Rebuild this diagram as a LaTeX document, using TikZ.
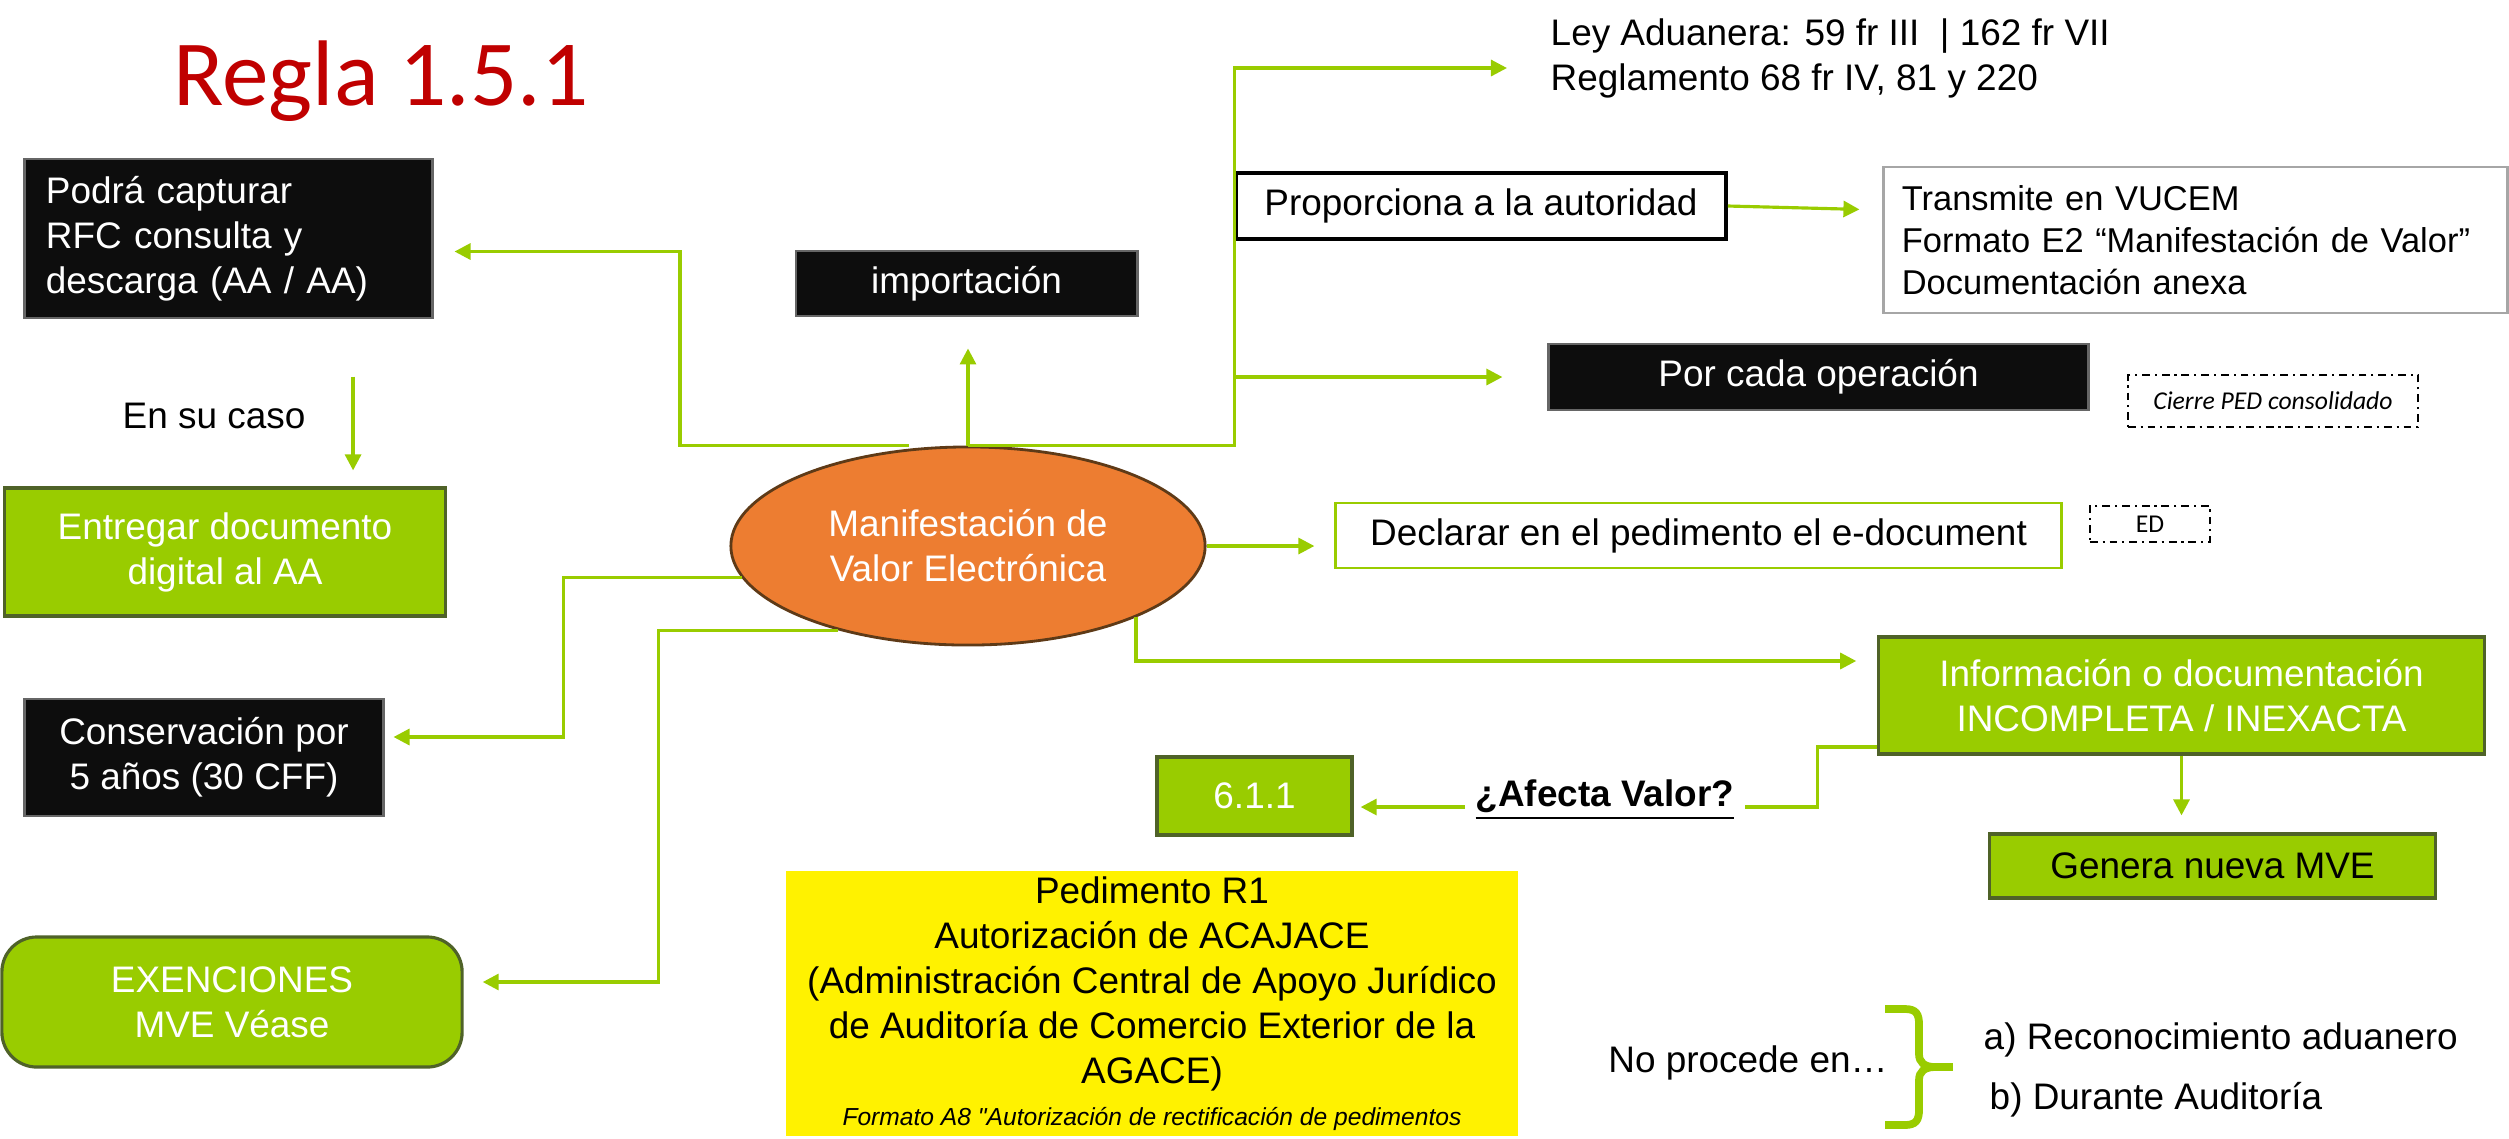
\documentclass[tikz,border=0pt]{standalone}
\usepackage{fontspec}
\setmainfont{Liberation Sans}
\newfontfamily\calibri{Carlito}
\usetikzlibrary{positioning, shapes.geometric, arrows.meta}

\definecolor{mvegreen}{HTML}{99CC00}
\definecolor{mveolive}{HTML}{4F6228}
\definecolor{mveorange}{HTML}{ED7D31}
\definecolor{mvebrown}{HTML}{5E3A17}
\definecolor{mveblack}{HTML}{0D0D0D}
\definecolor{mvered}{HTML}{C00000}

\begin{document}
\begin{tikzpicture}[
      x=0.01cm, y=-0.01cm,
      font=\fontsize{10.5}{12.8}\selectfont,
      darkbox/.style={rectangle, draw=black!60, fill=mveblack, text=white,
      line width=0.8pt, inner sep=0pt, align=center},
      greenbox/.style={rectangle, draw=mveolive, fill=mvegreen, text=white,
      line width=0.9pt, inner sep=0pt, align=center},
      plainbox/.style={rectangle, draw, fill=white, line width=0.8pt,
      inner sep=0pt, align=center},
      note/.style={rectangle, draw, line width=0.5pt, inner sep=0pt,
      dash pattern=on 2.2pt off 1.4pt on 0.6pt off 1.4pt,
      font=\calibri\itshape\fontsize{7.3}{9}\selectfont},
      plaintext/.style={inner sep=0pt, align=left},
      link/.style={draw=mvegreen, line width=0.9pt},
      line/.style={link, -{Triangle[length=0.16cm, width=0.16cm]}}
    ]
    \useasboundingbox (0,0) rectangle (2509,1138);

    % Nodes
    \node [plaintext, anchor=base, text=mvered,
      font=\calibri\fontsize{26.5}{30}\selectfont] (title) at (381,105) {Regla 1.5.1};
    \node [darkbox, align=left, text width=3.65cm, inner xsep=0.21cm,
      minimum height=1.59cm] (podra) at (228.5,238.5) {Podrá capturar\\RFC
      consulta y\\descarga (AA / AA)};
    \node [plaintext] (caso) at (214,416) {En su caso};
    \node [greenbox, minimum width=4.4cm, minimum height=1.28cm] (entregar)
      at (225,552) {Entregar documento\\digital al AA};
    \node [darkbox, minimum width=3.58cm, minimum height=1.17cm] (conserva)
      at (204,757.5) {Conservación por\\5 años (30 CFF)};
    \node [greenbox, rounded corners=0.35cm, minimum width=4.6cm,
      minimum height=1.3cm] (exen) at (232,1002) {EXENCIONES\\MVE Véase};
    \node [darkbox, minimum width=3.41cm, minimum height=0.65cm] (importa)
      at (966.5,283.5) {importación};
    \node [ellipse, draw=mvebrown, fill=mveorange, text=white, line width=0.8pt,
      minimum width=4.74cm, minimum height=1.98cm, inner sep=0pt,
      align=center] (mve) at (968,546) {Manifestación de\\Valor Electrónica};

    \node [plaintext, anchor=west] (ley) at (1550,58) {Ley Aduanera: 59 fr
      III\ \ | 162 fr VII\\Reglamento 68 fr IV, 81 y 220};
    \node [plainbox, line width=1pt, minimum width=4.9cm, minimum height=0.66cm]
      (prop) at (1481,206) {Proporciona a la autoridad};
    \node [plainbox, draw=black!35, align=left, text width=5.87cm,
      inner xsep=0.18cm, minimum height=1.46cm,
      font=\fontsize{9.8}{11.9}\selectfont] (trans) at (2195.5,240)
      {Transmite en VUCEM\\Formato E2 “Manifestación de Valor”\\Documentación anexa};
    \node [darkbox, minimum width=5.39cm, minimum height=0.66cm] (porcada)
      at (1818.5,377) {Por cada operación};
    \node [note, minimum width=2.9cm, minimum height=0.52cm] (cierre)
      at (2273,401) {Cierre PED consolidado};
    \node [plainbox, draw=mvegreen, minimum width=7.25cm, minimum height=0.65cm]
      (declarar) at (1698.5,535.5) {Declarar en el pedimento el e-document};
    \node [note, font=\calibri\fontsize{7.3}{9}\selectfont, minimum width=1.2cm,
      minimum height=0.36cm] (ed) at (2150,524) {ED};

    \node [greenbox, minimum width=6.05cm, minimum height=1.17cm] (info)
      at (2181.5,695.5) {Información o documentación\\INCOMPLETA / INEXACTA};
    \node [greenbox, text=black, minimum width=4.45cm, minimum height=0.64cm]
      (genera) at (2212.5,866) {Genera nueva MVE};
    \node [plaintext, anchor=west, inner xsep=0.1cm,
      font=\bfseries\fontsize{10.5}{12.8}\selectfont] (afecta) at (1465,800)
      {\underline{¿Afecta Valor?}};
    \node [greenbox, minimum width=1.95cm, minimum height=0.78cm] (n611)
      at (1254.5,796) {6.1.1};

    \node [rectangle, fill=yellow, minimum width=7.32cm, minimum height=2.65cm,
      inner sep=0pt, align=center] (r1) at (1152,1003.5) {Pedimento R1\\Autorización
      de ACAJACE\\(Administración Central de Apoyo Jurídico\\de Auditoría de
      Comercio Exterior de la\\AGACE)\\[-0.7pt]{\itshape\fontsize{7}{9}\selectfont
      Formato A8 \textquotedbl Autorización de rectificación de pedimentos}};

    \node [plaintext] (noproc) at (1748,1063) {No procede en…};
    \node [plaintext, anchor=west] (reco) at (1983,1040) {a) Reconocimiento aduanero};
    \node [plaintext, anchor=west] (audit) at (1989,1100) {b) Durante Auditoría};

    % Brace
    \draw [mvegreen, line width=2.2pt] (1885,1009) -- (1905,1009)
      .. controls (1916,1009) and (1919,1014) .. (1919,1024) -- (1919,1054)
      .. controls (1919,1062) and (1924,1067) .. (1935,1067)
      .. controls (1924,1067) and (1919,1072) .. (1919,1080) -- (1919,1110)
      .. controls (1919,1120) and (1916,1125) .. (1905,1125) -- (1885,1125);
    \draw [mvegreen, line width=2.2pt] (1933,1067) -- (1953,1067);

    % Paths
    \coordinate (split) at (mve.north -| prop.west);
    \path [line, shorten >=0.21cm] ([xshift=-0.59cm]mve.north) -- ++(-229,0)
      |- ([yshift=-0.13cm]podra.east);
    \path [line, shorten >=0.31cm] (mve.north) -- (mve.north |- importa.south);
    \path [line, shorten >=0.43cm] (mve.north) -- (split) |- ([yshift=-0.1cm]ley.west);
    \path [line, shorten >=0.45cm] (split) |- (porcada.west);
    \path [line, shorten >=0.23cm] (prop.east) -- ([yshift=0.3cm]trans.west);
    \path [line, shorten >=0.2cm] (mve.east) -- (mve.east -| declarar.west);
    \path [line, shorten >=0.21cm] (mve.-23) |- ([yshift=0.345cm]info.west);
    \path [line, shorten >=0.09cm] (mve.188) -- ++(-178,0)
      |- ([yshift=0.205cm]conserva.east);
    \path [line, shorten >=0.19cm] (mve.213) -- ++(-180,0)
      |- ([yshift=0.2cm]exen.east);
    \path [line, shorten <=0.57cm, shorten >=0.16cm] ([xshift=1.245cm]podra.south)
      -- ([xshift=1.245cm]podra.south |- entregar.north);
    \path [link] ([yshift=-0.515cm]info.west) -- ++(-60,0)
      |- ([yshift=-0.07cm]afecta.east);
    \path [line, shorten >=0.07cm] ([yshift=-0.07cm]afecta.west)
      -- ([yshift=-0.07cm]afecta.west -| n611.east);
    \path [line, shorten >=0.17cm] (info.south) -- (info.south |- genera.north);
  \end{tikzpicture}
\end{document}
